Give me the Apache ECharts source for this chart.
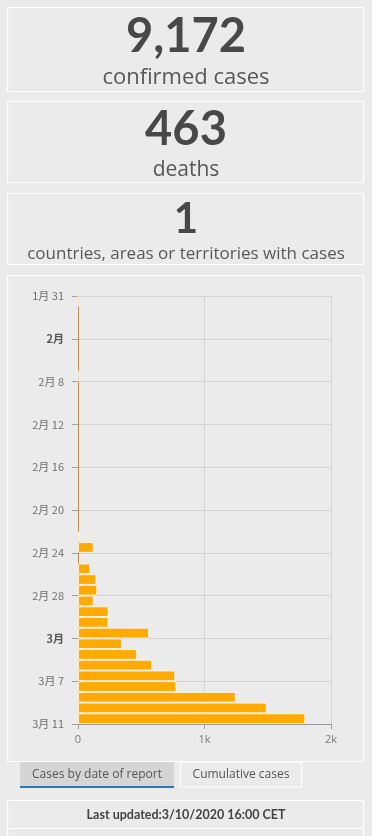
<!DOCTYPE html>
<html>
<head>
<meta charset="utf-8">
<script src="https://cdn.jsdelivr.net/npm/echarts@6/dist/echarts.min.js"></script>
<style>
html,body{margin:0;padding:0;background:#ebebeb;}
#main{width:372px;height:836px;}
</style>
</head>
<body>
<div id="main"></div>
<script>
// Dates of report (1/31 .. 3/10), one bar per day
const categories = [
  '1/31','2/1','2/2','2/3','2/4','2/5','2/6','2/7','2/8','2/9',
  '2/10','2/11','2/12','2/13','2/14','2/15','2/16','2/17','2/18','2/19',
  '2/20','2/21','2/22','2/23','2/24','2/25','2/26','2/27','2/28','2/29',
  '3/1','3/2','3/3','3/4','3/5','3/6','3/7','3/8','3/9','3/10'
];
// New confirmed cases by date of report
const cases = [
  2,0,0,0,0,0,0,1,0,0,
  0,0,0,0,0,0,0,0,0,0,
  0,0,14,124,0,98,145,153,124,241,
  240,561,347,466,587,769,778,1247,1492,1797
];
// Date-axis tick labels, every 4 days from 1/31 to 3/11
const tickLabels = ['1月 31','2月','2月 8','2月 12','2月 16','2月 20','2月 24','2月 28','3月','3月 7','3月 11'];
const boldTicks = ['2月','3月'];
// x-axis tick labels
const xTickLabels = {0:'0',1000:'1k',2000:'2k'};
// Summary cards
const confirmedCases = '9,172';
const deaths = '463';
const countries = '1';
const lastUpdated = 'Last updated:3/10/2020 16:00 CET';

const chart = echarts.init(document.getElementById('main'), null, {renderer:'canvas'});
const F = 'Lato, "Noto Sans", sans-serif';
const F2 = '"Open Sans", "Noto Sans", sans-serif';
const CJK = '"Noto Sans CJK SC", "Noto Sans", sans-serif';
function card(x,y,w,h){
  return {type:'rect', shape:{x:x,y:y,width:w,height:h}, style:{fill:'none', stroke:'#ffffff', lineWidth:1.2}, silent:true};
}
function txt(x,y,t,size,weight,color,fam){
  return {type:'text', x:x, y:y, style:{text:t, fontFamily:fam||F, fontSize:size, fontWeight:weight, fill:color, align:'center', verticalAlign:'middle'}, silent:true};
}
const option = {
  backgroundColor:'#ebebeb',
  animation:false,
  graphic:[
    card(7.5,7.5,356,84),
    txt(186,37,confirmedCases,47,'bold','#484848'),
    txt(186,78,'confirmed cases',22,'normal','#585858',F2),
    card(7.5,101.5,356,81),
    txt(186,130,deaths,47,'bold','#484848'),
    txt(186,170,'deaths',21,'normal','#585858',F2),
    card(7.5,193.5,356,71),
    txt(186,219,countries,42,'bold','#484848'),
    txt(186,254,'countries, areas or territories with cases',17,'normal','#585858',F2),
    card(7.5,275.5,356,486),
    {type:'rect', shape:{x:20,y:762,width:154,height:25}, style:{fill:'#d5d5d5'}, silent:true},
    {type:'rect', shape:{x:20,y:786,width:154,height:2}, style:{fill:'#2c78b4'}, silent:true},
    txt(97,775,'Cases by date of report',12,'normal','#555555',F2),
    {type:'rect', shape:{x:180.5,y:762,width:121,height:25}, style:{fill:'none', stroke:'#ffffff', lineWidth:1.2}, silent:true},
    txt(241,775,'Cumulative cases',12,'normal','#555555',F2),
    card(7.5,800.5,356,28),
    txt(186,815,lastUpdated,12.5,'bold','#444444'),
    card(7.5,828.5,356,20)
  ],
  grid:{left:78, top:296, right:41, bottom:112, containLabel:false},
  xAxis:{
    type:'value', min:0, max:2000, interval:1000,
    axisLine:{show:true, onZero:false, lineStyle:{color:'#9a9a9a'}},
    axisTick:{show:true, length:5, lineStyle:{color:'#9a9a9a'}},
    splitLine:{show:true, lineStyle:{color:'#d2d2d2'}},
    axisLabel:{formatter:v=>xTickLabels[v], color:'#7a7a7a', fontSize:11, fontFamily:F2, margin:10}
  },
  yAxis:[
    {
      type:'value', min:0, max:40, interval:4, inverse:true, position:'left',
      axisLine:{show:true, onZero:false, lineStyle:{color:'#b98c50', width:1}},
      axisTick:{show:true, length:6, lineStyle:{color:'#a0a0a0'}},
      splitLine:{show:true, lineStyle:{color:'#d2d2d2'}},
      axisLabel:{
        margin:14, fontSize:11, fontFamily:CJK, color:'#707070',
        formatter:v=>{const l=tickLabels[Math.round(v/4)]; return boldTicks.includes(l)?'{b|'+l+'}':l;},
        rich:{b:{fontWeight:'bold', color:'#555555', fontSize:11, fontFamily:CJK}}
      }
    },
    {
      type:'category', data:categories, inverse:true, show:false, boundaryGap:true
    }
  ],
  series:[{
    type:'bar', yAxisIndex:1, xAxisIndex:0,
    data:cases.map(v => v > 0 ? v : {value:v, itemStyle:{borderWidth:0}}),
    barWidth:'100%', z:1,
    itemStyle:{color:'#ffaa00', borderColor:'rgba(250,244,232,0.9)', borderWidth:1}
  }]
};
chart.setOption(option);
</script>
</body>
</html>
